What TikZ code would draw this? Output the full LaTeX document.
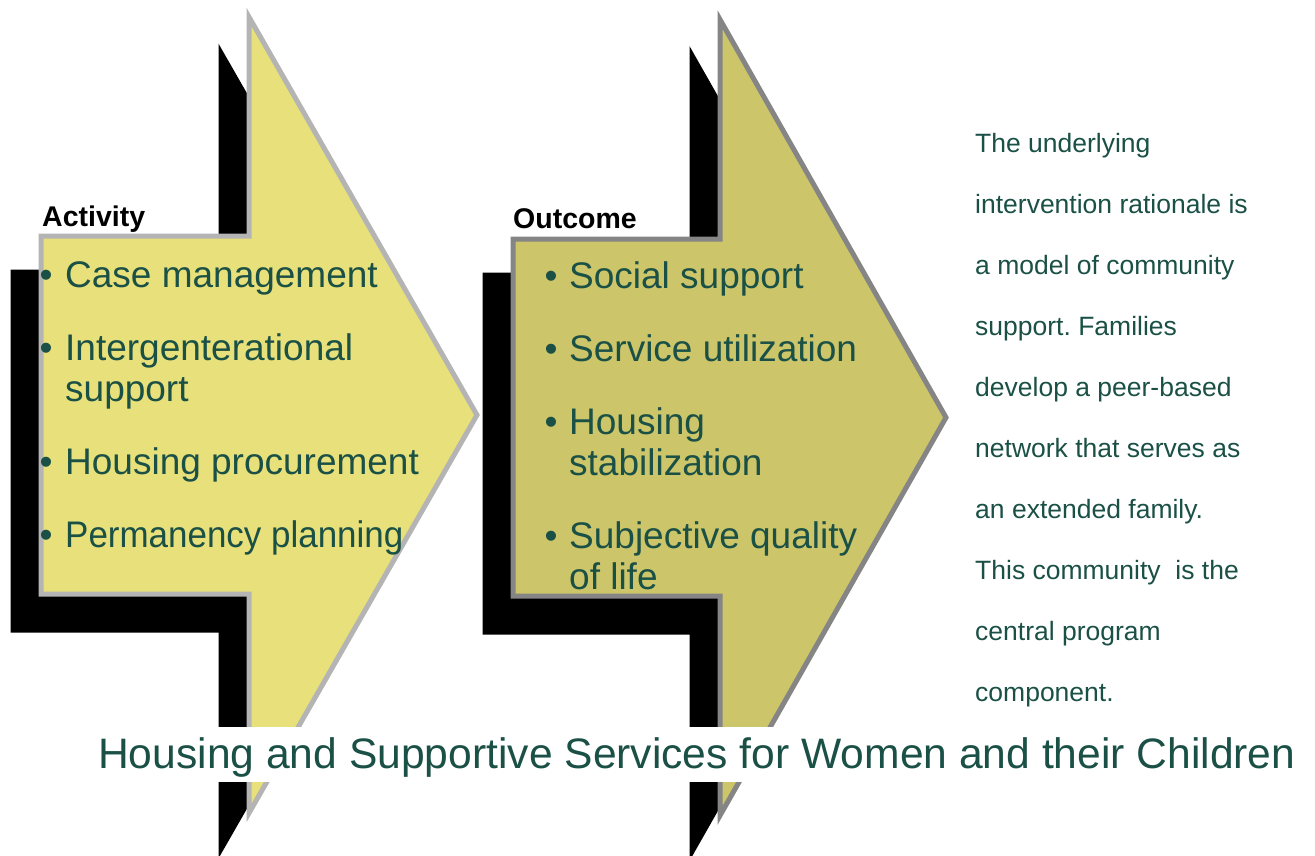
\documentclass[tikz,border=0pt]{standalone}
\usepackage{fontspec}
\setmainfont{Liberation Sans}
\frenchspacing
\definecolor{txtgreen}{HTML}{1A5045}
\definecolor{fillA}{HTML}{E8E07A}
\definecolor{fillB}{HTML}{CCC56A}
\definecolor{rimA}{HTML}{B4B4B4}
\definecolor{rimB}{HTML}{858585}
\begin{document}
\begin{tikzpicture}[x=1pt,y=-1pt,line join=miter,
  shadowshape/.style={fill=black,draw=black,line width=5pt},
  arrowA/.style={fill=fillA,draw=rimA,line width=5pt},
  arrowB/.style={fill=fillB,draw=rimB,line width=5pt},
  heading/.style={anchor=base west,inner sep=0pt,text=black,font=\fontsize{28.5}{32}\selectfont\bfseries},
  item/.style={anchor=base west,inner sep=0pt,text=txtgreen,font=\fontsize{37}{40}\selectfont},
  dot/.style={anchor=base,inner sep=0pt,text=txtgreen,font=\fontsize{37}{40}\selectfont},
  note/.style={anchor=base west,inner sep=0pt,text=txtgreen,font=\fontsize{26.5}{30}\selectfont},
  titletext/.style={anchor=base west,inner sep=0pt,text=txtgreen,font=\fontsize{42.6}{48}\selectfont}]
\useasboundingbox (0,0) rectangle (1315,855);

% first block arrow with its drop shadow
\def\arrowApath{(41,236) -- (249,236) -- (249,17) -- (477,415) -- (249,813) -- (249,594) -- (41,594) -- cycle}
\draw[shadowshape,shift={(-28,36)}] \arrowApath;
\draw[arrowA] \arrowApath;

% second block arrow with its drop shadow
\def\arrowBpath{(513,239) -- (720,239) -- (720,19.5) -- (946,417.5) -- (720,815.5) -- (720,596) -- (513,596) -- cycle}
\draw[shadowshape,shift={(-28,36)}] \arrowBpath;
\draw[arrowB] \arrowBpath;

% headings
\node[heading] (hact) at (42,226) {Activity};
\node[heading] (hout) at (513,228) {Outcome};

% activity items
\node[dot] (da1) at (46,287) {\textbullet};
\node[item] (a1) at (65,287) {Case management};
\node[dot] (da2) at (46,360) {\textbullet};
\node[item] (a2) at (65,360) {Intergenterational};
\node[item] (a2b) at (65,401) {support};
\node[dot] (da3) at (46,474) {\textbullet};
\node[item] (a3) at (65,474) {Housing procurement};
\node[dot] (da4) at (46,547) {\textbullet};
\node[item,xscale=0.945,transform shape] (a4) at (65,547) {Permanency planning};

% outcome items
\node[dot] (do1) at (551,288) {\textbullet};
\node[item] (o1) at (569,288) {Social support};
\node[dot] (do2) at (551,361) {\textbullet};
\node[item] (o2) at (569,361) {Service utilization};
\node[dot] (do3) at (551,434) {\textbullet};
\node[item] (o3) at (569,434) {Housing};
\node[item] (o3b) at (569,475) {stabilization};
\node[dot] (do4) at (551,548) {\textbullet};
\node[item] (o4) at (569,548) {Subjective quality};
\node[item] (o4b) at (569,589) {of life};

% rationale text
\node[note] (n1) at (975,152) {The underlying};
\node[note] (n2) at (975,213) {intervention rationale is};
\node[note] (n3) at (975,274) {a model of community};
\node[note] (n4) at (975,335) {support. Families};
\node[note] (n5) at (975,396) {develop a peer-based};
\node[note] (n6) at (975,457) {network that serves as};
\node[note] (n7) at (975,518) {an extended family.};
\node[note] (n8) at (975,579) {This community\ \ is the};
\node[note] (n9) at (975,640) {central program};
\node[note] (n10) at (975,701) {component.};

% title on a white band
\fill[white] (88,727) rectangle (1312,782);
\node[titletext] (title) at (98,768) {Housing and Supportive Services for Women and their Children};
\end{tikzpicture}
\end{document}
